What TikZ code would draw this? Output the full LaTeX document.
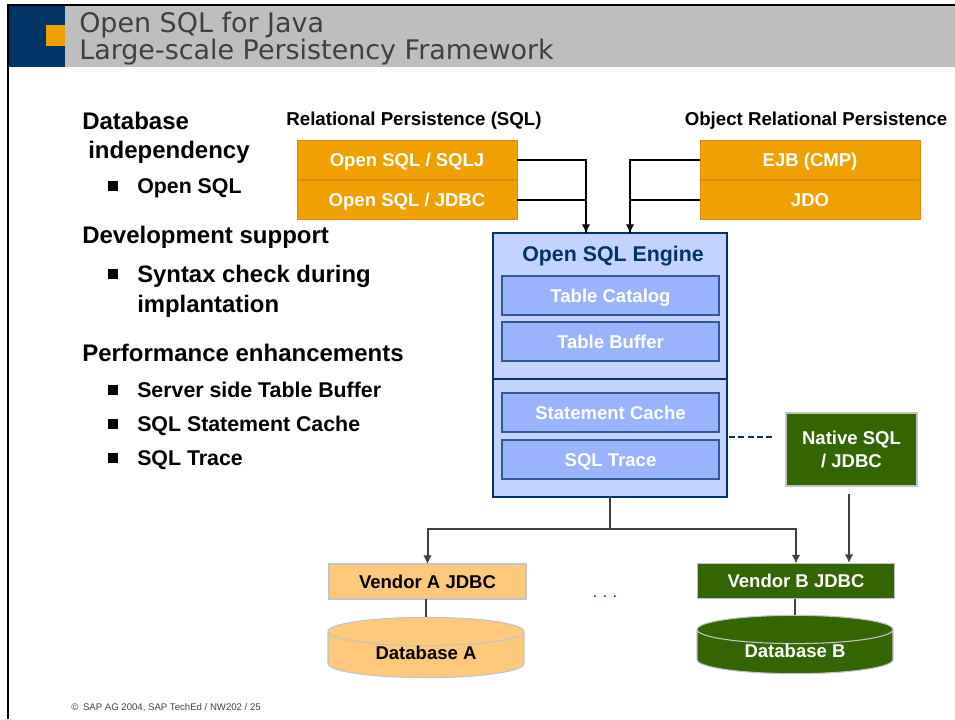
\documentclass[tikz,border=0pt]{standalone}
\usepackage{fontspec}
\setmainfont{Liberation Sans}
\newfontfamily\titlefont{DejaVu Sans}
\usepgflibrary{shapes.geometric}
\usetikzlibrary{calc}
\usetikzlibrary{arrows.meta}
\definecolor{sapnavy}{HTML}{003366}
\definecolor{sapgold}{HTML}{F0A000}
\definecolor{sapgoldline}{HTML}{DD8A10}
\definecolor{sapgrey}{HTML}{BEBEBE}
\definecolor{saptitle}{HTML}{404040}
\definecolor{engblue}{HTML}{C2D3FF}
\definecolor{innerblue}{HTML}{99B3FF}
\definecolor{innerline}{HTML}{2F5A96}
\definecolor{vendgreen}{HTML}{336600}
\definecolor{vendpeach}{HTML}{FFC87A}
\definecolor{softline}{HTML}{C4C4C4}
\definecolor{darkline}{HTML}{404040}

\begin{document}
\begin{tikzpicture}[x=0.75pt, y=-0.75pt,
	boxtext/.style={font=\bfseries\fontsize{13.9}{17}\selectfont, align=center, inner sep=0pt, outer sep=0pt},
	onetext/.style={boxtext, text height=10.4pt, text depth=0pt},
	apibox/.style={onetext, fill=sapgold, draw=sapgoldline, text=white, minimum width=165pt, minimum height=29.5pt},
	innerbox/.style={onetext, fill=innerblue, draw=innerline, thick, text=white, minimum width=162.75pt, minimum height=29.25pt},
	vendbox/.style={onetext, draw=softline, thick, minimum width=147.75pt, minimum height=26.25pt},
	dbcyl/.style={boxtext, cylinder, shape border rotate=90, aspect=0.28, draw=softline, thick, anchor=shape center, minimum width=147pt},
	headtext/.style={anchor=base west, inner sep=0pt, font=\bfseries\fontsize{18}{20}\selectfont},
	subtext/.style={anchor=base west, inner sep=0pt, align=left, font=\bfseries\fontsize{16}{22.5}\selectfont},
	bigsub/.style={anchor=base west, inner sep=0pt, align=left, font=\bfseries\fontsize{17.9}{22.2}\selectfont},
	bullet/.style={fill=black, inner sep=0pt, minimum size=7pt},
	titletext/.style={anchor=base west, inner sep=0pt, text=saptitle, font=\titlefont\fontsize{20.2}{22}\selectfont},
	wire/.style={line width=1.5pt, -{Latex[length=6.5pt, width=6.5pt]}},
	plainwire/.style={line width=1.5pt}]
	\useasboundingbox (0, 0) rectangle (955, 719);
	%header
	\fill[sapgrey] (65, 6) rectangle (955, 67);
	\fill[sapnavy] (8, 6) rectangle (65, 67);
	\fill[sapgold] (46, 25) rectangle (65, 46);
	\draw[line width=2pt] (8, 719) -- (8, 5) -- (955, 5);
	\node[titletext] (title) at (79, 32) {Open SQL for Java};
	\node[titletext] (subtitle) at (79, 59) {Large-scale Persistency Framework};
	%left list
	\node[headtext] (database) at (82, 129) {Database};
	\node[headtext] (indep) at (88, 158) {independency};
	\node[bullet] (b1) at (113, 186) {};
	\node[subtext] (opensql) at (137, 193) {Open SQL};
	\node[headtext] (devel) at (82, 243) {Development support};
	\node[bullet, minimum size=8pt] (b2) at (113, 274) {};
	\node[bigsub, anchor=north west] (syntax) at (137, 265) {Syntax check during\\implantation};
	\node[headtext] (perf) at (82, 361) {Performance enhancements};
	\node[bullet] (b3) at (113, 390) {};
	\node[subtext] (serverside) at (137, 397) {Server side Table Buffer};
	\node[bullet] (b4) at (113, 424) {};
	\node[subtext] (stmt) at (137, 431) {SQL Statement Cache};
	\node[bullet] (b5) at (113, 458) {};
	\node[subtext] (trace) at (137, 465) {SQL Trace};
	%captions
	\node[boxtext, font=\bfseries\fontsize{14}{15}\selectfont] (relcap) at (414, 121) {Relational Persistence (SQL)};
	\node[boxtext, font=\bfseries\fontsize{14}{15}\selectfont] (objcap) at (816, 121) {Object Relational Persistence};
	%api boxes
	\node[apibox] (sqlj) at (407, 160) {Open SQL / SQLJ};
	\node[apibox] (jdbc) at (407, 199.5) {Open SQL / JDBC};
	\node[apibox] (ejb) at (810, 160) {EJB (CMP)};
	\node[apibox] (jdo) at (810, 199.5) {JDO};
	%engine
	\node[draw=sapnavy, line width=1.5pt, fill=engblue, minimum width=175.5pt, minimum height=198pt, inner sep=0pt, outer sep=0pt] (engine) at (610, 365) {};
	\node[boxtext, text=sapnavy, font=\bfseries\fontsize{16}{18}\selectfont] (engtitle) at (613, 256) {Open SQL Engine};
	\node[innerbox] (catalog) at (610.5, 295.5) {Table Catalog};
	\node[innerbox] (buffer) at (610.5, 341.5) {Table Buffer};
	\node[innerbox] (cache) at (610.5, 412.5) {Statement Cache};
	\node[innerbox] (sqltrace) at (610.5, 459.5) {SQL Trace};
	\coordinate (divl) at (493, 379);
	\coordinate (divr) at (727, 379);
	\draw[draw=sapnavy, line width=1.5pt] (divl) -- (divr);
	%native and vendors
	\node[boxtext, fill=vendgreen, draw=softline, thick, text=white, minimum width=98.25pt, minimum height=54.75pt] (native) at (851.5, 449.5) {Native SQL\\/ JDBC};
	\node[vendbox, fill=vendpeach] (venda) at (427.5, 581.5) {Vendor A JDBC};
	\node[vendbox, fill=vendgreen, text=white] (vendb) at (796, 581) {Vendor B JDBC};
	\node[dbcyl, fill=vendpeach, minimum height=44pt] (dba) at (426, 647.5) {\raisebox{3pt}{Database A}};
	\node[dbcyl, fill=vendgreen, text=white, minimum height=41.5pt] (dbb) at (795, 644.5) {\raisebox{1.5pt}{Database B}};
	\node[inner sep=0pt, text=blue!80!black, font=\fontsize{11.5}{12}\selectfont] (dots) at (605, 597) {. . .};
	%wires
	\coordinate (ina) at (586, 233);
	\coordinate (inb) at (630, 233);
	\coordinate (fork) at (610, 529);
	\coordinate (nsout) at (849, 494);
	\coordinate (nsin) at (849, 563);
	\coordinate (dashl) at (729, 437);
	\coordinate (dashr) at (773, 437);
	\draw[plainwire] (jdbc.east) -| (ina);
	\draw[plainwire] (jdo.west) -| (inb);
	\draw[wire] (sqlj.east) -| (ina);
	\draw[wire] (ejb.west) -| (inb);
	\draw[plainwire, darkline] (engine.south) -- (fork);
	\draw[wire, darkline] (fork) -| (venda.north);
	\draw[wire, darkline] (fork) -| (vendb.north);
	\draw[wire, darkline] (nsout) -- (nsin);
	\draw[plainwire, darkline] (dba.north |- venda.south) -- (dba.north);
	\draw[plainwire, darkline] (dbb.north |- vendb.south) -- (dbb.north);
	\draw[sapnavy, thick, dash pattern=on 4.5pt off 2.5pt] (dashl) -- (dashr);
	%footer
	\node[anchor=base west, inner sep=0pt, text=darkline, font=\fontsize{7.2}{8}\selectfont] (footer) at (71, 710) {©\hspace{3.5pt}SAP AG 2004, SAP TechEd / NW202 / 25};
\end{tikzpicture}
\end{document}
